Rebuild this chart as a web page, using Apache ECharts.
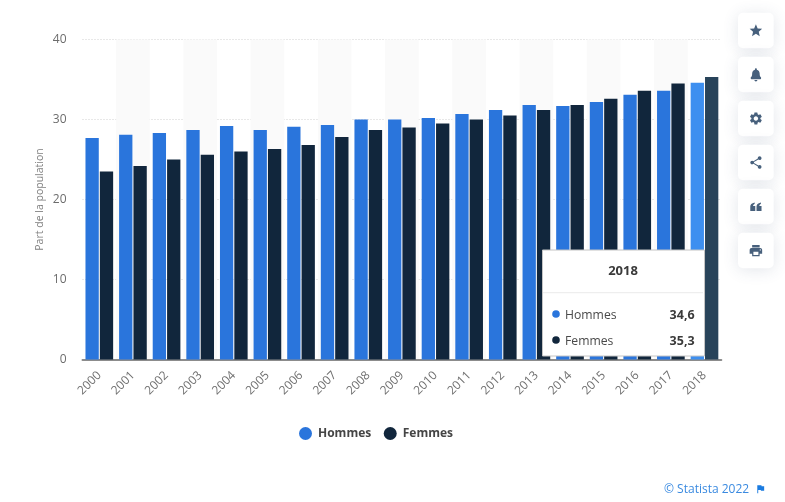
<!DOCTYPE html>
<html>
<head>
<meta charset="utf-8">
<style>html,body{margin:0;padding:0;background:#fff}#c{width:785px;height:502px}</style>
<script src="https://cdn.jsdelivr.net/npm/echarts@6/dist/echarts.min.js"></script>
</head>
<body>
<div id="c"></div>
<script>
const years = ['2000','2001','2002','2003','2004','2005','2006','2007','2008','2009','2010','2011','2012','2013','2014','2015','2016','2017','2018'];
const hommes = [27.7,28.1,28.3,28.7,29.2,28.7,29.1,29.3,30.0,30.0,30.2,30.7,31.2,31.8,31.7,32.2,33.1,33.6,34.6];
const femmes = [23.5,24.2,25.0,25.6,26.0,26.3,26.8,27.8,28.7,29.0,29.5,30.0,30.5,31.2,31.8,32.6,33.6,34.5,35.3];
const yTicks = {min:0,max:40,interval:10};
const seriesNames = ['Hommes','Femmes'];
const colors = ['#2a75dc','#11263c'];
const highlight = ['#3d8ff0','#28435a'];
const tooltipYear = '2018';
const fmt = v => String(v).replace('.',',');
const icons = [
 'M12 17.27L18.18 21l-1.64-7.03L22 9.24l-7.19-.61L12 2 9.19 8.63 2 9.24l5.46 4.73L5.82 21z',
 'M12 23c1.4 0 2.4-.9 2.4-2.2H9.600c0 1.300 1 2.200 2.400 2.200zM20 16.500c-1.200-1.300-2-2.500-2-6 0-3.100-2-5.300-4.500-6V3.500c0-.8-.7-1.500-1.500-1.500s-1.500.7-1.500 1.500v1C8 5.200 6 7.400 6 10.500c0 3.500-.8 4.700-2 6-.7.7-.5 3 1 3h14c1.500 0 1.700-2.300 1-3z',
 'M19.14 12.94c.04-.3.06-.61.06-.94 0-.32-.02-.64-.07-.94l2.03-1.58a.49.49 0 0 0 .12-.61l-1.92-3.32a.488.488 0 0 0-.59-.22l-2.39.96c-.5-.38-1.03-.7-1.62-.94l-.36-2.54a.484.484 0 0 0-.48-.41h-3.84c-.24 0-.43.17-.47.41l-.36 2.54c-.59.24-1.13.57-1.62.94l-2.39-.96c-.22-.08-.47 0-.59.22L2.74 8.87c-.12.21-.08.47.12.61l2.03 1.58c-.05.3-.09.63-.09.94s.02.64.07.94l-2.03 1.58a.49.49 0 0 0-.12.61l1.92 3.32c.12.22.37.29.59.22l2.39-.96c.5.38 1.03.7 1.62.94l.36 2.54c.05.24.24.41.48.41h3.84c.24 0 .44-.17.47-.41l.36-2.54c.59-.24 1.13-.56 1.62-.94l2.39.96c.22.08.47 0 .59-.22l1.92-3.32c.12-.22.07-.47-.12-.61l-2.01-1.58zM12 15.6c-1.98 0-3.6-1.62-3.6-3.6s1.62-3.6 3.6-3.6 3.6 1.62 3.6 3.6-1.62 3.6-3.6 3.6z',
 'M18 16.08c-.76 0-1.44.3-1.96.77L8.91 12.7c.05-.23.09-.46.09-.7s-.04-.47-.09-.7l7.05-4.11c.54.5 1.25.81 2.04.81 1.66 0 3-1.34 3-3s-1.34-3-3-3-3 1.34-3 3c0 .24.04.47.09.7L8.04 9.81C7.5 9.31 6.79 9 6 9c-1.66 0-3 1.34-3 3s1.34 3 3 3c.79 0 1.5-.31 2.04-.81l7.12 4.16c-.05.21-.08.43-.08.65 0 1.61 1.31 2.92 2.92 2.92 1.61 0 2.92-1.31 2.92-2.92s-1.31-2.92-2.92-2.92z',
 'M3 19V12c0-3 2-5.500 7-6.500v2.500c-1.500.5-2.500 1.500-2.500 3H11v8H3z M13 19V12c0-3 2-5.500 7-6.500v2.500c-1.500.5-2.500 1.500-2.500 3H21v8h-8z',
 'M19 8H5c-1.66 0-3 1.34-3 3v6h4v4h12v-4h4v-6c0-1.66-1.34-3-3-3zm-3 11H8v-5h8v5zm3-7c-.55 0-1-.45-1-1s.45-1 1-1 1 .45 1 1-.45 1-1 1zm-1-9H6v4h12V3z'
];
const flag = 'M14.4 6L14 4H5v17h2v-7h5.6l.4 2h7V6z';
const font = '"Open Sans","Noto Sans",sans-serif';
const iconColor = '#47607c';
const iconImage = (d, fill) => 'data:image/svg+xml;charset=utf-8,' + encodeURIComponent(
  '<svg xmlns="http://www.w3.org/2000/svg" width="48" height="48" viewBox="0 0 24 24"><path fill="' + fill + '" d="' + d + '"/></svg>');

const chart = echarts.init(document.getElementById('c'), null, {renderer:'canvas'});
const idx = years.indexOf(tooltipYear);
const makeData = (vals, s) => vals.map((v,i) => i===idx ? {value:v,itemStyle:{color:highlight[s]}} : v);

const buttons = [];
icons.forEach((p,i) => {
  const y0 = 12.7 + i*44;
  buttons.push({type:'rect',z:20,shape:{x:738,y:y0,width:35.7,height:35.6,r:5},
    style:{fill:'#fff',shadowBlur:16,shadowColor:'rgba(60,80,110,0.14)',shadowOffsetY:2}});
  buttons.push({type:'image',z:21,style:{image:iconImage(p,iconColor),x:748.4,y:y0+10.3,width:15,height:15}});
});

const box = {x:542.5,y:250,w:162,h:106};
const tip = [
  {type:'rect',z:30,shape:{x:box.x,y:box.y,width:box.w,height:box.h},style:{fill:'#fff',stroke:'#c4c4c4',lineWidth:1}},
  {type:'text',z:31,x:623,y:271.7,style:{text:tooltipYear,font:'bold 13px '+font,fill:'#3a3a3a',textAlign:'center',textVerticalAlign:'middle'}},
  {type:'line',z:31,shape:{x1:543,y1:292.7,x2:703,y2:292.7},style:{stroke:'#eeeeee',lineWidth:1.2}},
];
[hommes,femmes].forEach((arr,s) => {
  const y = 315.2 + s*26;
  tip.push({type:'circle',z:31,shape:{cx:556,cy:y-1.2,r:3.8},style:{fill:colors[s]}});
  tip.push({type:'text',z:31,x:565,y:y,style:{text:seriesNames[s],font:'12.2px '+font,fill:'#4a4a4a',textVerticalAlign:'middle'}});
  tip.push({type:'text',z:31,x:694.6,y:y,style:{text:fmt(arr[idx]),font:'bold 12.5px '+font,fill:'#3a3a3a',textAlign:'right',textVerticalAlign:'middle'}});
});

const footer = [
  {type:'text',x:664,y:489.5,style:{text:'© Statista 2022',font:'12px '+font,fill:'#3a8ae0',textVerticalAlign:'middle'}},
  {type:'image',style:{image:iconImage(flag,'#1a7be0'),x:755,y:483.5,width:11,height:11}}
];

chart.setOption({
  animation:false,
  textStyle:{fontFamily:font},
  grid:{left:82.5,right:63.7,top:39.5,bottom:142.5,containLabel:false},
  legend:{show:true,left:299,top:427,itemWidth:13,itemHeight:13,itemGap:12.5,icon:'circle',padding:0,
    data:seriesNames,selectedMode:false,
    textStyle:{fontFamily:font,fontSize:12,fontWeight:'bold',color:'#454545',padding:[1,0,0,1]}},
  xAxis:{type:'category',data:years,
    axisTick:{show:false},
    axisLine:{lineStyle:{color:'#8c8c8c',width:2}},
    axisLabel:{interval:0,rotate:45,color:'#707070',fontSize:12,margin:14},
    splitArea:{show:true,interval:0,areaStyle:{color:['rgba(0,0,0,0)','#fafafa']}},
    splitLine:{show:false}},
  yAxis:{type:'value',min:yTicks.min,max:yTicks.max,interval:yTicks.interval,
    name:'Part de la population',nameLocation:'middle',nameGap:37,nameMoveOverlap:false,
    nameTextStyle:{color:'#808080',fontSize:10.5},
    axisLine:{show:false},axisTick:{show:false},
    axisLabel:{color:'#6c6c6c',fontSize:12,margin:16,padding:[4,0,0,0]},
    splitLine:{lineStyle:{color:'#d0d0d0',type:[1,2],width:1}}},
  series:[
    {name:seriesNames[0],type:'bar',data:makeData(hommes,0),barWidth:13.3,barGap:'8%',itemStyle:{color:colors[0]}},
    {name:seriesNames[1],type:'bar',data:makeData(femmes,1),barWidth:13.3,itemStyle:{color:colors[1]}}
  ],
  graphic:{elements:[...buttons,...tip,...footer]}
});
</script>
</body>
</html>
